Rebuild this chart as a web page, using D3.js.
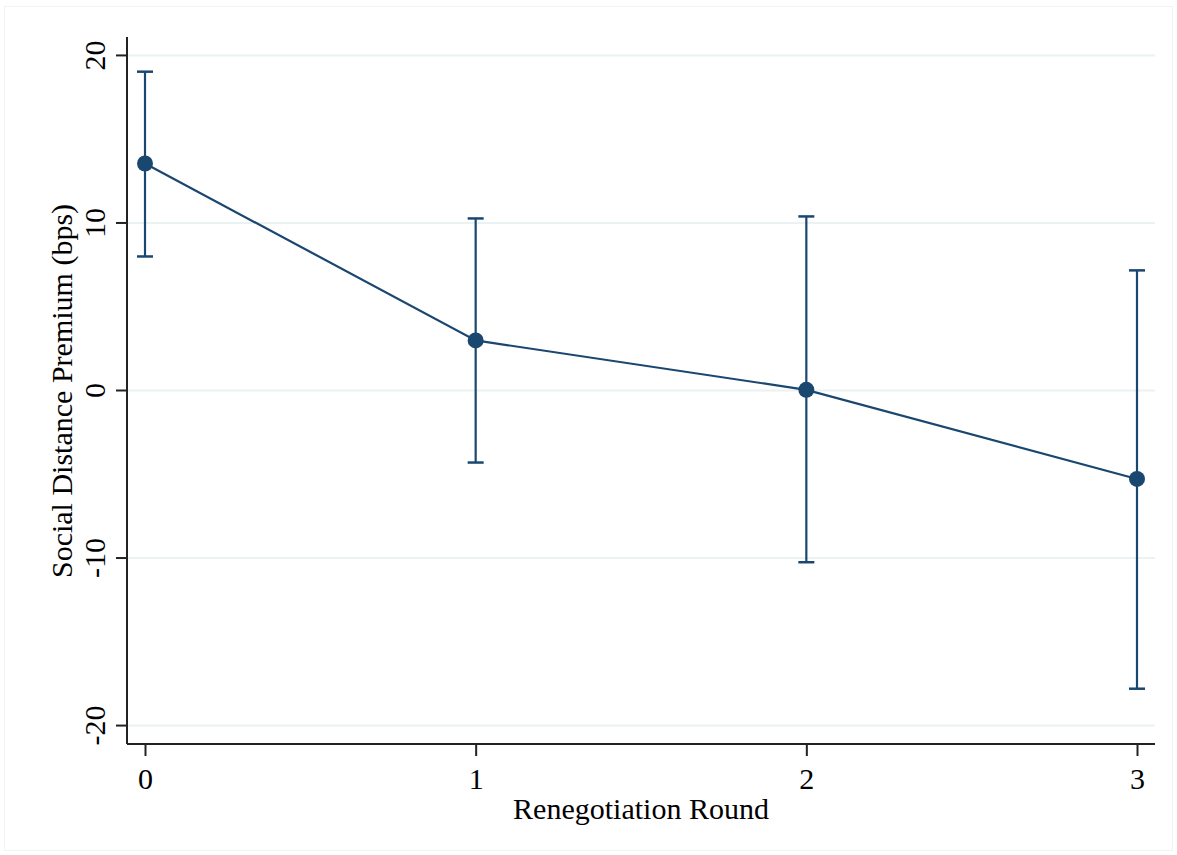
<!DOCTYPE html>
<html>
<head>
<meta charset="utf-8">
<script src="https://cdn.jsdelivr.net/npm/d3@7"></script>
<style>
  html, body { margin: 0; padding: 0; background: #fff; }
  svg { display: block; }
  text { font-family: "Liberation Serif", "Times New Roman", serif; fill: #000; }
</style>
</head>
<body>
<svg id="chart" width="1177" height="855"></svg>
<script>
const rounds = [0, 1, 2, 3];
const estimates = [13.55, 2.99, 0.04, -5.28];
const ciUpper = [19.03, 10.27, 10.39, 7.17];
const ciLower = [8.0, -4.3, -10.25, -17.8];
const yTicks = [-20, -10, 0, 10, 20];
const xTicks = [0, 1, 2, 3];
const xTitle = "Renegotiation Round";
const yTitle = "Social Distance Premium (bps)";

const svg = d3.select("#chart");
const color = "#1a476f";
const fmt = d => String(d);

// faint graph region outline
svg.append("rect").attr("x", 4.5).attr("y", 6.5).attr("width", 1168).attr("height", 844)
  .attr("fill", "none").attr("stroke", "#f2f2f2").attr("stroke-width", 1);

const plotLeft = 127, plotRight = 1155, plotTop = 37, plotBottom = 744;
const x = d3.scaleLinear().domain([0, 3]).range([145, 1137]);
const y = d3.scaleLinear().domain([-21.1, 21.1]).range([plotBottom, plotTop]);

// gridlines
svg.append("g").selectAll("line").data(yTicks).join("line")
  .attr("x1", plotLeft).attr("x2", plotRight)
  .attr("y1", d => y(d)).attr("y2", d => y(d))
  .attr("stroke", "#eaf2f3").attr("stroke-width", 2);

// y axis
const yAxis = svg.append("g").attr("transform", `translate(${plotLeft},0)`)
  .call(d3.axisLeft(y).tickValues(yTicks).tickSize(11).tickPadding(8).tickFormat(fmt));
yAxis.select(".domain").attr("stroke", "#222").attr("stroke-width", 2)
  .attr("d", `M0,${plotTop}V${plotBottom}`);
yAxis.selectAll(".tick").attr("transform", null);
yAxis.selectAll(".tick line").attr("stroke", "#222").attr("stroke-width", 2)
  .attr("y1", d => y(d)).attr("y2", d => y(d)).attr("x2", -11);
yAxis.selectAll(".tick text")
  .attr("font-size", 30).attr("font-family", "Liberation Serif")
  .attr("transform", "rotate(-90)")
  .attr("dy", null)
  .attr("text-anchor", "middle")
  .each(function(d) {
    d3.select(this).attr("x", -y(d)).attr("y", -22);
  });

// x axis
const xAxis = svg.append("g").attr("transform", `translate(0,${plotBottom})`)
  .call(d3.axisBottom(x).tickValues(xTicks).tickSize(12).tickPadding(12).tickFormat(fmt));
xAxis.select(".domain").attr("stroke", "#222").attr("stroke-width", 2)
  .attr("d", `M${plotLeft},0H${plotRight}`);
xAxis.selectAll(".tick line").attr("stroke", "#222").attr("stroke-width", 2);
xAxis.selectAll(".tick text").attr("font-size", 30).attr("font-family", "Liberation Serif");

// axis titles
svg.append("text").attr("x", 641).attr("y", 819).attr("text-anchor", "middle")
  .attr("font-size", 30).text(xTitle);
svg.append("text").attr("transform", `translate(72,${391}) rotate(-90)`)
  .attr("text-anchor", "middle").attr("font-size", 30).text(yTitle);

// error bars
const eb = svg.append("g");
eb.selectAll("line.v").data(rounds).join("line").attr("class", "v")
  .attr("x1", d => x(d)).attr("x2", d => x(d))
  .attr("y1", (d, i) => y(ciUpper[i])).attr("y2", (d, i) => y(ciLower[i]))
  .attr("stroke", color).attr("stroke-width", 2.2);
eb.selectAll("line.cu").data(rounds).join("line").attr("class", "cu")
  .attr("x1", d => x(d) - 8).attr("x2", d => x(d) + 8)
  .attr("y1", (d, i) => y(ciUpper[i])).attr("y2", (d, i) => y(ciUpper[i]))
  .attr("stroke", color).attr("stroke-width", 2.5);
eb.selectAll("line.cl").data(rounds).join("line").attr("class", "cl")
  .attr("x1", d => x(d) - 8).attr("x2", d => x(d) + 8)
  .attr("y1", (d, i) => y(ciLower[i])).attr("y2", (d, i) => y(ciLower[i]))
  .attr("stroke", color).attr("stroke-width", 2.5);

// connecting line
const line = d3.line().x(d => x(d[0])).y(d => y(d[1]));
svg.append("path").datum(rounds.map((r, i) => [r, estimates[i]]))
  .attr("d", line).attr("fill", "none").attr("stroke", color).attr("stroke-width", 2.2);

// points
svg.append("g").selectAll("circle").data(rounds).join("circle")
  .attr("cx", d => x(d)).attr("cy", (d, i) => y(estimates[i]))
  .attr("r", 8).attr("fill", color);
</script>
</body>
</html>
